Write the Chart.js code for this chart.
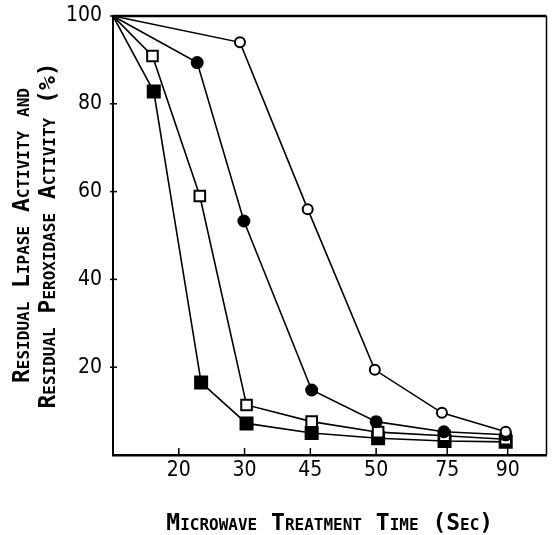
<!DOCTYPE html>
<html>
<head>
<meta charset="utf-8">
<script src="https://cdn.jsdelivr.net/npm/chart.js@4/dist/chart.umd.min.js"></script>
<style>
  html, body { margin: 0; padding: 0; background: #fff; }
  canvas { display: block; }
</style>
</head>
<body>
<canvas id="c" width="557" height="535"></canvas>
<script>
// Treatment-time axis: tick positions (axis units) and their labels in seconds
const tickPos = [1, 2, 3, 4, 5.08, 6];
const tickLabels = ['20', '30', '45', '50', '75', '90'];
const yTicks = [20, 40, 60, 80, 100];

// Residual activity (%) for each series, with the axis position of each reading
const openCircleX   = [0, 1.93, 2.96, 3.98, 5.0, 5.97];
const openCircleY   = [100, 94, 56, 19.4, 9.6, 5.3];
const filledCircleX = [0, 1.28, 1.99, 3.02, 4.0, 5.03, 5.97];
const filledCircleY = [100, 89.4, 53.3, 14.8, 7.6, 5.3, 4.6];
const openSquareX   = [0, 0.6, 1.32, 2.03, 3.02, 4.03, 5.04, 5.97];
const openSquareY   = [100, 90.9, 59, 11.4, 7.6, 5.2, 4.4, 3.6];
const filledSquareX = [0, 0.62, 1.34, 2.03, 3.02, 4.03, 5.04, 5.97];
const filledSquareY = [100, 82.8, 16.5, 7.2, 5.0, 3.8, 3.2, 3.0];

const pts = (xs, ys) => xs.map((x, i) => ({ x: x, y: ys[i] }));

function series(label, xs, ys, style, radius, fill) {
  return {
    label: label,
    data: pts(xs, ys),
    borderColor: '#000',
    borderWidth: 1.6,
    tension: 0,
    fill: false,
    pointStyle: style,
    pointRadius: ctx => ctx.dataIndex === 0 ? 0 : radius,
    pointBackgroundColor: fill,
    pointBorderColor: '#000',
    pointBorderWidth: 2
  };
}

const tickFont = { family: "'Liberation Sans Narrow', 'DejaVu Sans Condensed', sans-serif", size: 21 };
const titleFamily = "'DejaVu Sans Mono', monospace";

// Box frame and short inward tick marks
const framePlugin = {
  id: 'frame',
  beforeDatasetsDraw(chart) {
    const { ctx, chartArea: a, scales } = chart;
    ctx.save();
    ctx.strokeStyle = '#000';
    ctx.lineWidth = 2.5;
    ctx.beginPath();
    ctx.moveTo(a.left, a.top);
    ctx.lineTo(a.right, a.top);
    ctx.stroke();
    ctx.lineWidth = 1.5;
    ctx.beginPath();
    ctx.moveTo(a.right, a.top);
    ctx.lineTo(a.right, a.bottom);
    ctx.stroke();
    tickPos.forEach(v => {
      const px = scales.x.getPixelForValue(v);
      ctx.beginPath();
      ctx.moveTo(px, a.bottom);
      ctx.lineTo(px, a.bottom - 7);
      ctx.stroke();
    });
    yTicks.forEach(v => {
      const py = scales.y.getPixelForValue(v);
      ctx.beginPath();
      ctx.moveTo(a.left - 3, py);
      ctx.lineTo(a.left + 4, py);
      ctx.stroke();
    });
    ctx.restore();
  }
};

new Chart(document.getElementById('c'), {
  type: 'line',
  data: {
    datasets: [
      series('Series 1', openCircleX, openCircleY, 'circle', 5, '#fff'),
      series('Series 2', filledCircleX, filledCircleY, 'circle', 5.5, '#000'),
      series('Series 3', openSquareX, openSquareY, 'rect', 7.5, '#fff'),
      series('Series 4', filledSquareX, filledSquareY, 'rect', 8.5, '#000')
    ]
  },
  options: {
    responsive: false,
    animation: false,
    devicePixelRatio: 1,
    layout: { padding: { top: 16, right: 8, left: 0, bottom: 0 } },
    plugins: { legend: { display: false }, tooltip: { enabled: false } },
    scales: {
      x: {
        type: 'linear',
        min: 0,
        max: 6.59,
        grid: { display: false, drawTicks: false },
        border: { display: true, color: '#000', width: 2.5 },
        afterBuildTicks: scale => { scale.ticks = tickPos.map(v => ({ value: v })); },
        afterFit: scale => { scale.height = 80; scale.paddingLeft = 0; scale.paddingRight = 0; },
        ticks: {
          autoSkip: false,
          maxRotation: 0,
          padding: 3,
          color: '#000',
          font: tickFont,
          callback: (v, i) => tickLabels[i]
        },
        title: {
          display: true,
          text: 'Microwave Treatment Time (Sec)',
          color: '#000',
          padding: 0,
          font: { family: titleFamily, size: 23, weight: 'small-caps bold', lineHeight: 0.95 }
        }
      },
      y: {
        min: 0,
        max: 100,
        grid: { display: false, drawTicks: false },
        border: { display: true, color: '#000', width: 2 },
        afterBuildTicks: scale => { scale.ticks = yTicks.map(v => ({ value: v })); },
        afterFit: scale => { scale.width = 113; scale.paddingTop = 0; scale.paddingBottom = 0; },
        ticks: {
          padding: 11,
          color: '#000',
          font: tickFont
        },
        title: {
          display: true,
          text: ['Residual Lipase Activity and', 'Residual Peroxidase Activity (%)'],
          color: '#000',
          padding: { top: 10, bottom: 0 },
          font: { family: titleFamily, size: 23, weight: 'small-caps bold', lineHeight: 1.13 }
        }
      }
    }
  },
  plugins: [framePlugin]
});
</script>
</body>
</html>
